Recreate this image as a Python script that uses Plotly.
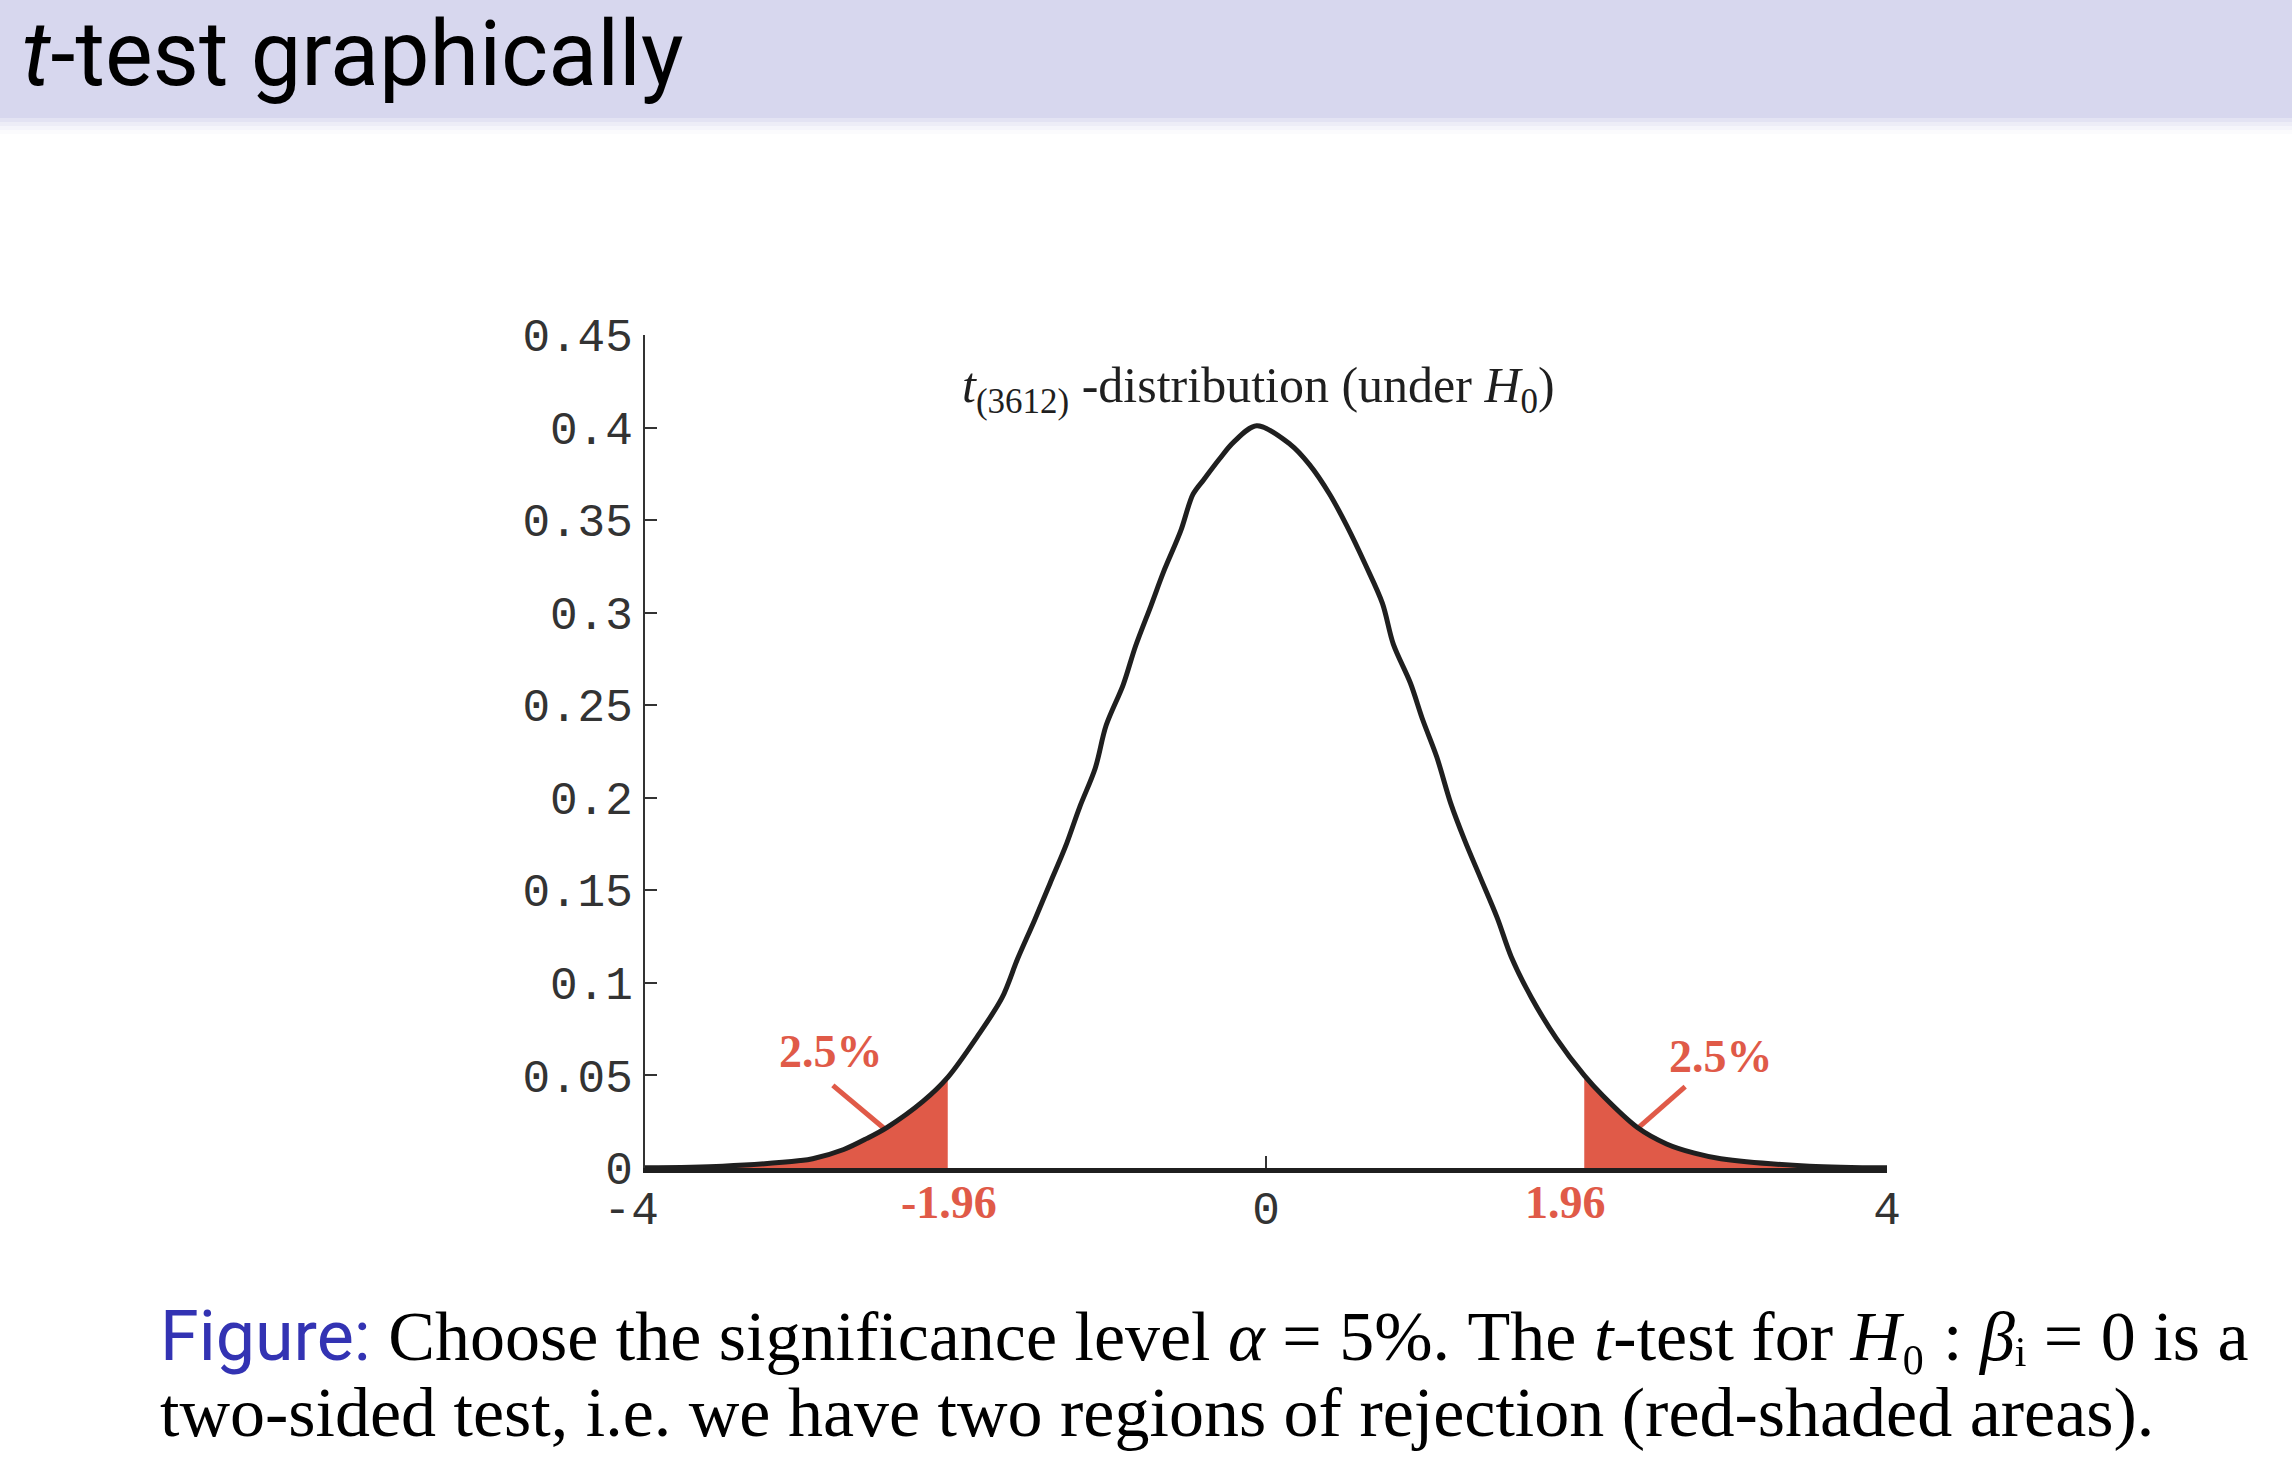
import plotly.graph_objects as go

# values
t_vals = [-4.0, -3.5, -3.0, -2.92, -2.72, -2.57, -2.44, -2.21, -2.05, -1.86,
          -1.70, -1.60, -1.49, -1.39, -1.29, -1.20, -1.10, -1.03, -0.92, -0.84,
          -0.74, -0.66, -0.55, -0.47, -0.40, -0.30, -0.21, -0.06, 0.155, 0.28,
          0.41, 0.52, 0.64, 0.75, 0.82, 0.93, 1.01, 1.10, 1.19, 1.28,
          1.38, 1.49, 1.58, 1.71, 1.87, 2.05, 2.17, 2.39, 2.58, 2.76,
          2.93, 3.5, 4.0]
density = [0.0001, 0.001, 0.004, 0.005, 0.010, 0.016, 0.022, 0.036, 0.049, 0.071,
           0.092, 0.113, 0.134, 0.154, 0.174, 0.195, 0.216, 0.239, 0.261, 0.282,
           0.304, 0.322, 0.344, 0.364, 0.372, 0.383, 0.392, 0.401, 0.391, 0.380,
           0.364, 0.347, 0.326, 0.305, 0.283, 0.262, 0.242, 0.222, 0.197, 0.177,
           0.157, 0.135, 0.114, 0.092, 0.070, 0.050, 0.039, 0.022, 0.013, 0.008,
           0.005, 0.001, 0.0001]
cutoff_left = -2.05
cutoff_right = 2.05
crit_labels = ["-1.96", "1.96"]
crit_label_x = [-2.04, 1.93]
tail_share = "2.5%"
tail_label_x = [-2.80, 2.93]
tail_label_y = [0.0627, 0.060]
leader_left_x = [-2.79, -2.43]
leader_left_y = [0.0446, 0.0193]
leader_right_x = [2.70, 2.39]
leader_right_y = [0.044, 0.0211]
x_ticks = [-4, 0, 4]
x_tick_text = ["-4\u00a0", "0", "4"]  # nbsp keeps the digit centred on its tick
y_ticks = [0, 0.05, 0.1, 0.15, 0.2, 0.25, 0.3, 0.35, 0.4, 0.45]
y_tick_text = ["0", "0.05", "0.1", "0.15", "0.2", "0.25", "0.3", "0.35", "0.4", "0.45"]

W, H = 2292, 1478
L, R, T, B = 645, 405, 335, 310
RED = "#E05A48"
INK = "#1f1f1f"
BLUE = "#3333B3"


def px_x(X):
    """page pixel -> paper x"""
    return (X - L) / (W - L - R)


def px_y(Y):
    """page pixel -> paper y"""
    return (H - B - Y) / (H - T - B)


fig = go.Figure()

# rejection regions
left_x = [t for t in t_vals if t <= cutoff_left]
left_y = [d for t, d in zip(t_vals, density) if t <= cutoff_left]
right_x = [t for t in t_vals if t >= cutoff_right]
right_y = [d for t, d in zip(t_vals, density) if t >= cutoff_right]
for xs, ys in [(left_x, left_y), (right_x, right_y)]:
    fig.add_trace(go.Scatter(x=xs, y=ys, mode="lines", fill="tozeroy",
                             fillcolor=RED, line=dict(width=0, color=RED),
                             hoverinfo="skip", showlegend=False))

# leader lines
for xs, ys in [(leader_left_x, leader_left_y), (leader_right_x, leader_right_y)]:
    fig.add_trace(go.Scatter(x=xs, y=ys, mode="lines",
                             line=dict(width=5, color=RED),
                             hoverinfo="skip", showlegend=False))

# density curve
fig.add_trace(go.Scatter(x=t_vals, y=density, mode="lines",
                         line=dict(width=5, color=INK, shape="spline", smoothing=0.9),
                         cliponaxis=False, showlegend=False))

for lx, ly in zip(tail_label_x, tail_label_y):
    fig.add_annotation(x=lx, y=ly, xref="x", yref="y", text="<b>%s</b>" % tail_share,
                       showarrow=False, font=dict(family="Liberation Serif", size=46, color=RED))
for txt, cx in zip(crit_labels, crit_label_x):
    fig.add_annotation(x=cx, y=px_y(1202), xref="x", yref="paper", yanchor="middle",
                       text="<b>%s</b>" % txt, showarrow=False,
                       font=dict(family="Liberation Serif", size=46, color=RED))

fig.add_annotation(x=-0.05, y=0.421, xref="x", yref="y",
                   text="<i>t</i><sub>(3612)</sub> -distribution (under <i>H</i><sub>0</sub>)",
                   showarrow=False, font=dict(family="Liberation Serif", size=50, color=INK))

# slide header
fig.add_shape(type="rect", xref="paper", yref="paper", x0=px_x(-5), x1=px_x(W + 5),
              y0=px_y(118), y1=px_y(-5), fillcolor="#D7D7EE", line_width=0, layer="below")
for i, op in enumerate([0.7, 0.45, 0.25, 0.1]):
    fig.add_shape(type="rect", xref="paper", yref="paper", x0=px_x(-5), x1=px_x(W + 5),
                  y0=px_y(118 + 4 * (i + 1)), y1=px_y(118 + 4 * i),
                  fillcolor="#D7D7EE", opacity=op, line_width=0, layer="below")
fig.add_annotation(x=px_x(20), y=px_y(0), xref="paper", yref="paper", xanchor="left",
                   yanchor="top", text="<i>t</i>-test graphically", showarrow=False,
                   font=dict(family="Roboto", size=90, color="black"))

# caption, one annotation per line to keep the tight line spacing
caption_lines = [
    "<span style='font-family:Roboto;color:%s'>Figure:</span> Choose the significance "
    "level <i>α</i> = 5%%. The <i>t</i>-test for <i>H</i>₀ : "
    "<i>β</i>ᵢ = 0 is a" % BLUE,
    "two-sided test, i.e. we have two regions of rejection (red-shaded areas).",
]
for txt, cy in zip(caption_lines, [1336, 1412]):
    fig.add_annotation(x=px_x(158), y=px_y(cy), xref="paper", yref="paper", xanchor="left",
                       yanchor="middle", align="left", text=txt, showarrow=False,
                       font=dict(family="Liberation Serif", size=70, color="black"))

fig.update_layout(width=W, height=H, margin=dict(l=L, r=R, t=T, b=B),
                  paper_bgcolor="white", plot_bgcolor="white", showlegend=False)
fig.update_xaxes(range=[-4, 4], tickvals=x_ticks, ticktext=x_tick_text, showgrid=False,
                 zeroline=False, showline=True, linewidth=5, linecolor=INK,
                 ticks="inside", ticklen=12, tickwidth=2, tickcolor="#333",
                 ticklabelstandoff=-4,
                 tickfont=dict(family="Liberation Mono", size=46, color="#333"))
fig.update_yaxes(range=[0, 0.45], tickvals=y_ticks, ticktext=y_tick_text, showgrid=False,
                 zeroline=False, showline=True, linewidth=2, linecolor="#333",
                 ticks="inside", ticklen=12, tickwidth=2, tickcolor="#333",
                 ticklabelstandoff=1,
                 tickfont=dict(family="Liberation Mono", size=46, color="#333"))

# slide fills the whole window: drop the default body margin
fig.write_html("out.html", config={"displayModeBar": False},
               post_script="document.body.style.margin='0';"
                           "document.body.style.overflow='hidden';")
